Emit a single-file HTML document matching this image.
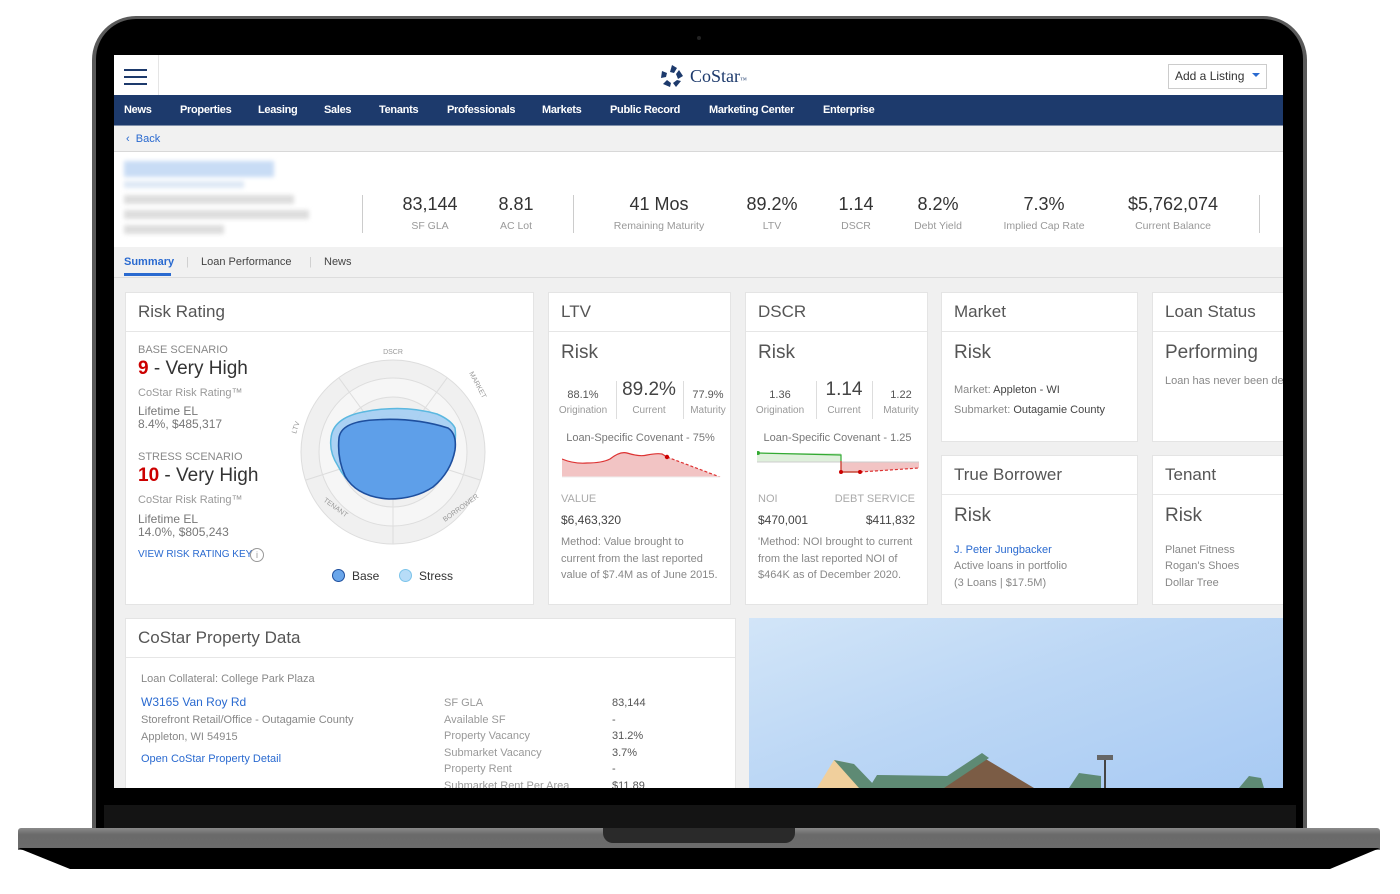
<!DOCTYPE html>
<html><head><meta charset="utf-8"><style>
*{box-sizing:border-box;margin:0;padding:0}
body{width:1400px;height:894px;background:#fff;position:relative;overflow:hidden;font-family:"Liberation Sans",sans-serif;color:#555}
.a{position:absolute}
.card{position:absolute;background:#fff;border:1px solid #e4e4e4}
.ch{height:39px;border-bottom:1px solid #e6e6e6;font-size:17px;color:#555;padding:9px 12px}
.t{position:absolute;white-space:nowrap}
.nav span{position:absolute;top:9px;font-size:11px;color:#fff;font-weight:bold;letter-spacing:-0.3px}
.num{font-size:18px;color:#333;text-align:center}
.lab{font-size:10.5px;color:#999;text-align:center}
</style></head><body>
<div class="a" style="left:92px;top:16px;width:1215px;height:820px;background:#5a5a5a;border-radius:44px 44px 0 0"></div>
<div class="a" style="left:96px;top:19px;width:1207px;height:815px;background:#000;border-radius:40px 40px 0 0"></div>
<div class="a" style="left:104px;top:805px;width:1192px;height:24px;background:#141414"></div>
<div class="a" style="left:697px;top:36px;width:4px;height:4px;border-radius:2px;background:#222"></div>
<div class="a" style="left:18px;top:828px;width:1362px;height:22px;background:linear-gradient(#8a8a8a,#6a6a6a 30%,#6c6c6c);border-radius:3px 3px 0 0"></div>
<div class="a" style="left:603px;top:828px;width:192px;height:15px;background:#2a2a2a;border-radius:0 0 10px 10px"></div>
<svg class="a" style="left:0;top:848px" width="1400" height="24"><polygon points="18,0 1380,0 1330,21 70,21" fill="#000"/></svg>

<div class="a" style="left:114px;top:55px;width:1169px;height:733px;background:#f0f0f0;overflow:hidden">
 <div class="a" style="left:0;top:0;width:1169px;height:40px;background:#fff"></div>
 <div class="a" style="left:44px;top:0;width:1px;height:40px;background:#e5e5e5"></div>
 <div class="a" style="left:10px;top:14px;width:23px;height:2px;background:#1d3a6c"></div>
 <div class="a" style="left:10px;top:21px;width:23px;height:2px;background:#1d3a6c"></div>
 <div class="a" style="left:10px;top:28px;width:23px;height:2px;background:#1d3a6c"></div>
 <svg class="a" style="left:545px;top:9px" width="26" height="24"><g fill="#1d3a6c"><path d="M13 1 L18 4 L15 9 L11 8Z"/><path d="M20 6 L24 12 L19 15 L17 10Z"/><path d="M22 17 L17 23 L14 19 L18 16Z"/><path d="M11 23 L4 20 L8 16 L12 19Z"/><path d="M2 14 L3 7 L8 9 L7 13Z"/></g></svg>
 <div class="t" style="left:576px;top:11px;font-size:18px;color:#1d3a6c;font-family:'Liberation Serif',serif">CoStar<span style="font-size:7px">™</span></div>
 <div class="a" style="left:1054px;top:9px;width:99px;height:25px;border:1px solid #ccc;background:#fff"></div>
 <div class="t" style="left:1061px;top:14px;font-size:12px;color:#333">Add a Listing</div>
 <svg class="a" style="left:1138px;top:18px" width="8" height="5"><polygon points="0,0 8,0 4,4" fill="#2a6ad0"/></svg>
 <div class="a nav" style="left:0;top:40px;width:1169px;height:31px;background:#1d3a6c;border-bottom:1px solid #8090aa">
  <span style="left:10px">News</span><span style="left:66px">Properties</span><span style="left:144px">Leasing</span><span style="left:210px">Sales</span><span style="left:265px">Tenants</span><span style="left:333px">Professionals</span><span style="left:428px">Markets</span><span style="left:496px">Public Record</span><span style="left:595px">Marketing Center</span><span style="left:709px">Enterprise</span>
 </div>
 <div class="a" style="left:0;top:71px;width:1169px;height:26px;background:#f1f1f1;border-bottom:1px solid #d8d8d8"></div>
 <div class="t" style="left:12px;top:78px;font-size:11px;color:#2a6ad0">‹&nbsp; Back</div>
 <div class="a" style="left:0;top:97px;width:1169px;height:95px;background:#fff"></div>
 <div class="a" style="left:10px;top:106px;width:150px;height:16px;background:#c8dcf5;filter:blur(2px)"></div>
 <div class="a" style="left:10px;top:126px;width:120px;height:7px;background:#dde8f5;filter:blur(2px)"></div>
 <div class="a" style="left:10px;top:140px;width:170px;height:9px;background:#ddd;filter:blur(2px)"></div>
 <div class="a" style="left:10px;top:155px;width:185px;height:9px;background:#ddd;filter:blur(2px)"></div>
 <div class="a" style="left:10px;top:170px;width:100px;height:9px;background:#ddd;filter:blur(2px)"></div>
 <div class="a" style="left:248px;top:140px;width:1px;height:38px;background:#ccc"></div>
 <div class="a" style="left:459px;top:140px;width:1px;height:38px;background:#ccc"></div>
 <div class="a" style="left:1145px;top:140px;width:1px;height:38px;background:#ccc"></div>
 <div class="a num" style="left:266px;top:139px;width:100px">83,144</div><div class="a lab" style="left:266px;top:165px;width:100px">SF GLA</div>
 <div class="a num" style="left:352px;top:139px;width:100px">8.81</div><div class="a lab" style="left:352px;top:165px;width:100px">AC Lot</div>
 <div class="a num" style="left:485px;top:139px;width:120px">41 Mos</div><div class="a lab" style="left:485px;top:165px;width:120px">Remaining Maturity</div>
 <div class="a num" style="left:608px;top:139px;width:100px">89.2%</div><div class="a lab" style="left:608px;top:165px;width:100px">LTV</div>
 <div class="a num" style="left:692px;top:139px;width:100px">1.14</div><div class="a lab" style="left:692px;top:165px;width:100px">DSCR</div>
 <div class="a num" style="left:774px;top:139px;width:100px">8.2%</div><div class="a lab" style="left:774px;top:165px;width:100px">Debt Yield</div>
 <div class="a num" style="left:870px;top:139px;width:120px">7.3%</div><div class="a lab" style="left:870px;top:165px;width:120px">Implied Cap Rate</div>
 <div class="a num" style="left:999px;top:139px;width:120px">$5,762,074</div><div class="a lab" style="left:999px;top:165px;width:120px">Current Balance</div>
 <div class="a" style="left:0;top:192px;width:1169px;height:31px;background:#f1f1f1;border-bottom:1px solid #ddd"></div>
 <div class="t" style="left:10px;top:201px;font-size:11px;color:#2a6ad0;font-weight:bold">Summary</div>
 <div class="a" style="left:10px;top:218px;width:47px;height:3px;background:#2a6ad0"></div>
 <div class="t" style="left:72px;top:201px;font-size:11px;color:#ccc">|</div>
 <div class="t" style="left:87px;top:201px;font-size:11px;color:#444">Loan Performance</div>
 <div class="t" style="left:195px;top:201px;font-size:11px;color:#ccc">|</div>
 <div class="t" style="left:210px;top:201px;font-size:11px;color:#444">News</div>

 <div class="card" style="left:11px;top:237px;width:409px;height:313px"><div class="ch">Risk Rating</div>
  <div class="t" style="left:12px;top:51px;font-size:11px;color:#888">BASE SCENARIO</div>
  <div class="t" style="left:12px;top:65px;font-size:19px;color:#333"><span style="color:#c00;font-weight:bold">9</span> - Very High</div>
  <div class="t" style="left:12px;top:94px;font-size:11px;color:#999">CoStar Risk Rating™</div>
  <div class="t" style="left:12px;top:111px;font-size:12px;color:#777">Lifetime EL</div>
  <div class="t" style="left:12px;top:124px;font-size:12px;color:#777">8.4%, $485,317</div>
  <div class="t" style="left:12px;top:158px;font-size:11px;color:#888">STRESS SCENARIO</div>
  <div class="t" style="left:12px;top:172px;font-size:19px;color:#333"><span style="color:#c00;font-weight:bold">10</span> - Very High</div>
  <div class="t" style="left:12px;top:201px;font-size:11px;color:#999">CoStar Risk Rating™</div>
  <div class="t" style="left:12px;top:219px;font-size:12px;color:#777">Lifetime EL</div>
  <div class="t" style="left:12px;top:232px;font-size:12px;color:#777">14.0%, $805,243</div>
  <div class="t" style="left:12px;top:256px;font-size:10px;color:#2a6ad0">VIEW RISK RATING KEY</div>
  <div class="a" style="left:124px;top:255px;width:14px;height:14px;border:1px solid #999;border-radius:50%;font-size:9px;text-align:center;color:#999;line-height:12px">i</div>
 </div>
 <svg class="a" style="left:160px;top:290px" width="260" height="260">
  <g transform="translate(119,107)">
   <circle r="92" fill="#f0f0f0" stroke="#ddd"/>
   <circle r="74" fill="#f6f6f6" stroke="#ddd"/>
   <circle r="55" fill="#f0f0f0" stroke="#ddd"/>
   <circle r="37" fill="#f6f6f6" stroke="#ddd"/>
   <circle r="18" fill="#f0f0f0" stroke="#ddd"/>
   <g stroke="#ddd"><line x1="0" y1="0" x2="0" y2="92"/><line x1="0" y1="0" x2="54" y2="-74"/><line x1="0" y1="0" x2="-54" y2="-74"/><line x1="0" y1="0" x2="87" y2="28"/><line x1="0" y1="0" x2="-87" y2="28"/></g>
   <path d="M-62 -14 Q-60 -34 -30 -40 Q10 -48 44 -38 Q58 -32 62 -24 Q64 -10 58 6 Q44 42 -2 45 Q-40 44 -55 14 Q-64 0 -62 -14Z" fill="#a3cdf3" fill-opacity="0.9" stroke="#5bb8e0" stroke-width="1.5"/>
   <path d="M-54 -14 Q-52 -30 -20 -32 Q20 -35 55 -24 Q64 -18 62 -2 Q58 20 40 35 Q22 47 -4 47 Q-36 45 -48 24 Q-56 6 -54 -14Z" fill="#5e9fe9" stroke="#1e4f9e" stroke-width="1.6"/>
  </g>
  <text x="119" y="9" font-size="7" fill="#999" text-anchor="middle" font-family="Liberation Sans">DSCR</text>
  <text x="0" y="0" font-size="7" fill="#999" font-family="Liberation Sans" transform="translate(195,28) rotate(62)">MARKET</text>
  <text x="0" y="0" font-size="7" fill="#999" font-family="Liberation Sans" transform="translate(171,177) rotate(-36)">BORROWER</text>
  <text x="0" y="0" font-size="7" fill="#999" font-family="Liberation Sans" transform="translate(49,156) rotate(36)">TENANT</text>
  <text x="0" y="0" font-size="7" fill="#999" font-family="Liberation Sans" transform="translate(22,89) rotate(-72)">LTV</text>
 </svg>
 <div class="a" style="left:218px;top:514px;width:13px;height:13px;border-radius:50%;background:#6aa6ea;border:1.5px solid #1e4f9e"></div>
 <div class="t" style="left:238px;top:514px;font-size:12px;color:#333">Base</div>
 <div class="a" style="left:285px;top:514px;width:13px;height:13px;border-radius:50%;background:#b7dcf8;border:1.5px solid #7cc4ea"></div>
 <div class="t" style="left:305px;top:514px;font-size:12px;color:#333">Stress</div>

 <div class="card" style="left:434px;top:237px;width:183px;height:313px"><div class="ch">LTV</div>
  <div class="t" style="left:12px;top:49px;font-size:19px;color:#555">Risk</div>
  <div class="a" style="left:0;top:96px;width:68px;text-align:center;font-size:11px;color:#555">88.1%</div>
  <div class="a" style="left:0;top:112px;width:68px;text-align:center;font-size:10px;color:#999">Origination</div>
  <div class="a" style="left:67px;top:88px;width:1px;height:38px;background:#ddd"></div>
  <div class="a" style="left:68px;top:86px;width:64px;text-align:center;font-size:19px;color:#444">89.2%</div>
  <div class="a" style="left:68px;top:112px;width:64px;text-align:center;font-size:10px;color:#999">Current</div>
  <div class="a" style="left:134px;top:88px;width:1px;height:38px;background:#ddd"></div>
  <div class="a" style="left:135px;top:96px;width:48px;text-align:center;font-size:11px;color:#555">77.9%</div>
  <div class="a" style="left:135px;top:112px;width:48px;text-align:center;font-size:10px;color:#999">Maturity</div>
  <div class="a" style="left:0;top:139px;width:183px;text-align:center;font-size:11px;color:#777">Loan-Specific Covenant - 75%</div>
  <svg class="a" style="left:13px;top:158px" width="160" height="30"><path d="M0 8 Q12 13 25 12 Q40 12 48 8 Q58 0 65 2 Q78 6 85 4 Q95 2 100 3 L105 6 L158 26 L158 26 L0 26Z" fill="#f2c4c4"/><path d="M0 8 Q12 13 25 12 Q40 12 48 8 Q58 0 65 2 Q78 6 85 4 Q95 2 100 3 L105 6" fill="none" stroke="#d33" stroke-width="1.2"/><path d="M105 6 L158 26" stroke="#d33" stroke-width="1.2" stroke-dasharray="3 2"/><circle cx="105" cy="6" r="2.2" fill="#c00"/><line x1="0" y1="26" x2="158" y2="26" stroke="#eee"/></svg>
  <div class="t" style="left:12px;top:200px;font-size:11px;color:#aaa">VALUE</div>
  <div class="t" style="left:12px;top:220px;font-size:12px;color:#444">$6,463,320</div>
  <div class="t" style="left:12px;top:241px;font-size:11px;color:#888;line-height:16.7px">Method: Value brought to<br>current from the last reported<br>value of $7.4M as of June 2015.</div>
 </div>
 <div class="card" style="left:631px;top:237px;width:183px;height:313px"><div class="ch">DSCR</div>
  <div class="t" style="left:12px;top:49px;font-size:19px;color:#555">Risk</div>
  <div class="a" style="left:0;top:96px;width:68px;text-align:center;font-size:11px;color:#555">1.36</div>
  <div class="a" style="left:0;top:112px;width:68px;text-align:center;font-size:10px;color:#999">Origination</div>
  <div class="a" style="left:70px;top:88px;width:1px;height:38px;background:#ddd"></div>
  <div class="a" style="left:71px;top:86px;width:54px;text-align:center;font-size:19px;color:#444">1.14</div>
  <div class="a" style="left:71px;top:112px;width:54px;text-align:center;font-size:10px;color:#999">Current</div>
  <div class="a" style="left:126px;top:88px;width:1px;height:38px;background:#ddd"></div>
  <div class="a" style="left:127px;top:96px;width:56px;text-align:center;font-size:11px;color:#555">1.22</div>
  <div class="a" style="left:127px;top:112px;width:56px;text-align:center;font-size:10px;color:#999">Maturity</div>
  <div class="a" style="left:0;top:139px;width:183px;text-align:center;font-size:11px;color:#777">Loan-Specific Covenant - 1.25</div>
  <svg class="a" style="left:11px;top:158px" width="162" height="30"><rect x="0" y="2" width="84" height="9" fill="#dff0dc"/><path d="M84 11 L162 11 L162 17 L103 21 L84 21Z" fill="#f2c4c4"/><line x1="0" y1="11" x2="162" y2="11" stroke="#ccc"/><path d="M0 2 L84 4 L84 21 L103 21" fill="none" stroke="#3a3" stroke-width="1.2"/><path d="M84 10 L84 21 L103 21" fill="none" stroke="#d33" stroke-width="1.2"/><path d="M103 21 L162 17" stroke="#d33" stroke-width="1.2" stroke-dasharray="3 2"/><circle cx="1" cy="2" r="2" fill="#3a3"/><circle cx="84" cy="21" r="2" fill="#c00"/><circle cx="103" cy="21" r="2" fill="#c00"/></svg>
  <div class="t" style="left:12px;top:200px;font-size:11px;color:#aaa">NOI</div>
  <div class="t" style="right:12px;top:200px;font-size:11px;color:#aaa">DEBT SERVICE</div>
  <div class="t" style="left:12px;top:220px;font-size:12px;color:#444">$470,001</div>
  <div class="t" style="right:12px;top:220px;font-size:12px;color:#444">$411,832</div>
  <div class="t" style="left:12px;top:241px;font-size:11px;color:#888;line-height:16.7px">'Method: NOI brought to current<br>from the last reported NOI of<br>$464K as of December 2020.</div>
 </div>
 <div class="card" style="left:827px;top:237px;width:197px;height:150px"><div class="ch">Market</div>
  <div class="t" style="left:12px;top:49px;font-size:19px;color:#555">Risk</div>
  <div class="t" style="left:12px;top:91px;font-size:11px;color:#888">Market: <span style="color:#444">Appleton - WI</span></div>
  <div class="t" style="left:12px;top:111px;font-size:11px;color:#888">Submarket: <span style="color:#444">Outagamie County</span></div>
 </div>
 <div class="card" style="left:1038px;top:237px;width:140px;height:150px"><div class="ch">Loan Status</div>
  <div class="t" style="left:12px;top:49px;font-size:19px;color:#555">Performing</div>
  <div class="t" style="left:12px;top:82px;font-size:11px;color:#888">Loan has never been delinquent</div>
 </div>
 <div class="card" style="left:827px;top:400px;width:197px;height:150px"><div class="ch">True Borrower</div>
  <div class="t" style="left:12px;top:49px;font-size:19px;color:#555">Risk</div>
  <div class="t" style="left:12px;top:88px;font-size:11px;color:#2a6ad0">J. Peter Jungbacker</div>
  <div class="t" style="left:12px;top:104px;font-size:11px;color:#888">Active loans in portfolio</div>
  <div class="t" style="left:12px;top:121px;font-size:11px;color:#888">(3 Loans | $17.5M)</div>
 </div>
 <div class="card" style="left:1038px;top:400px;width:140px;height:150px"><div class="ch">Tenant</div>
  <div class="t" style="left:12px;top:49px;font-size:19px;color:#555">Risk</div>
  <div class="t" style="left:12px;top:88px;font-size:11px;color:#888">Planet Fitness</div>
  <div class="t" style="left:12px;top:104px;font-size:11px;color:#888">Rogan's Shoes</div>
  <div class="t" style="left:12px;top:121px;font-size:11px;color:#888">Dollar Tree</div>
 </div>
 <div class="card" style="left:11px;top:563px;width:611px;height:200px"><div class="ch">CoStar Property Data</div>
  <div class="t" style="left:15px;top:54px;font-size:11px;color:#888">Loan Collateral: College Park Plaza</div>
  <div class="t" style="left:15px;top:76px;font-size:12px;color:#2a6ad0">W3165 Van Roy Rd</div>
  <div class="t" style="left:15px;top:95px;font-size:11px;color:#888">Storefront Retail/Office - Outagamie County</div>
  <div class="t" style="left:15px;top:112px;font-size:11px;color:#888">Appleton, WI 54915</div>
  <div class="t" style="left:15px;top:134px;font-size:11px;color:#2a6ad0">Open CoStar Property Detail</div>
  <div class="t" style="left:318px;top:76px;font-size:11px;color:#999;line-height:16.5px">SF GLA<br>Available SF<br>Property Vacancy<br>Submarket Vacancy<br>Property Rent<br>Submarket Rent Per Area</div>
  <div class="t" style="left:486px;top:76px;font-size:11px;color:#555;line-height:16.5px">83,144<br>-<br>31.2%<br>3.7%<br>-<br>$11.89</div>
 </div>
 <div class="a" style="left:635px;top:563px;width:534px;height:170px;background:linear-gradient(160deg,#d2e5f8 0%,#bcd7f5 45%,#a8caf3 100%)"></div>
 <svg class="a" style="left:635px;top:563px" width="534" height="170">
  <polygon points="68,170 85,142 100,145 118,170" fill="#f0cf9c"/>
  <polygon points="85,142 105,146 128,170 110,170" fill="#5e8a74"/>
  <polygon points="120,170 128,157 200,158 215,170" fill="#5e8a74"/>
  <polygon points="195,170 235,140 285,170" fill="#7b5c45"/>
  <polygon points="180,170 233,135 240,140 195,170" fill="#5e8a74"/>
  <rect x="355" y="140" width="2" height="30" fill="#444"/>
  <rect x="348" y="137" width="16" height="5" fill="#666"/>
  <polygon points="320,170 330,155 352,158 352,170" fill="#5e8a74"/>
  <polygon points="490,170 500,158 512,160 515,170" fill="#5e8a74"/>
 </svg>
</div>
</body></html>
